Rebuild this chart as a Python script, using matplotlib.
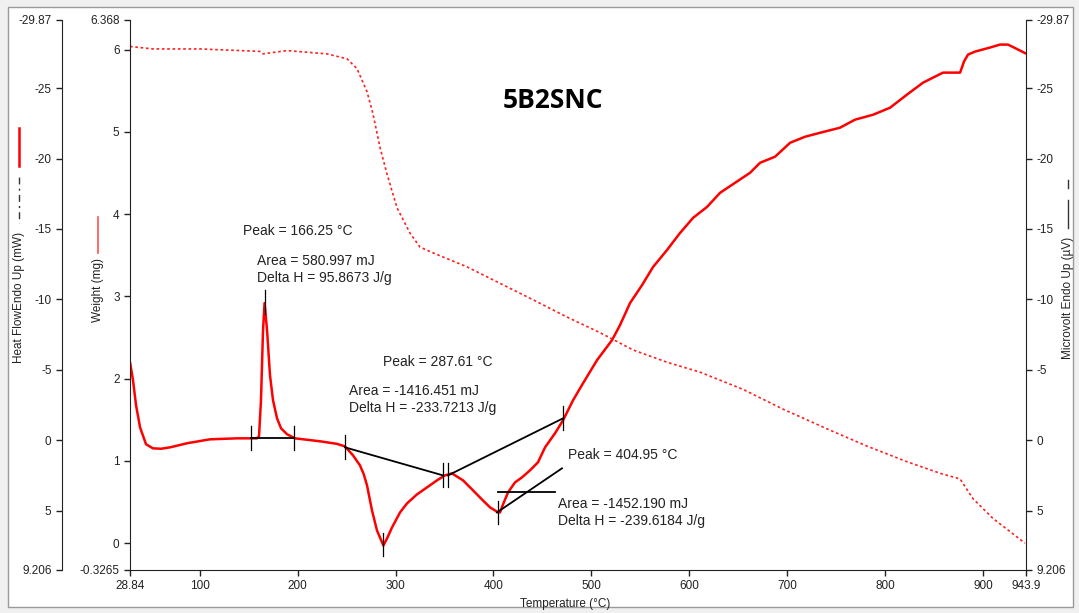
import matplotlib
matplotlib.use("Agg")
from matplotlib import pyplot as plt
from matplotlib.patches import Rectangle
from matplotlib.lines import Line2D

plt.rcParams['font.family'] = ['Liberation Sans', 'DejaVu Sans']

# heat flow curve (Temperature degC, mW, endo up -> axis inverted)
hf_temp = [28.84, 31.9, 35.0, 39.1, 45.2, 52.3, 60.5, 69.7, 87.1, 110.5, 138.1, 158.5, 160.6,
           162.6, 164.7, 166.25, 168.8, 171.8, 174.9, 179.0, 183.1, 189.2, 197.4, 222.9,
           240.0, 248.4, 256.6, 263.7, 267.5, 270.9, 276.0, 281.1, 287.6, 291.3, 296.4, 304.6,
           311.7, 321.9, 332.2, 342.4, 350.5, 357.7, 368.9, 378.1, 388.3, 396.5, 404.95, 406.7,
           409.8, 414.9, 422.0, 429.2, 437.4, 445.5, 452.7, 462.9, 471.1, 481.3, 491.5,
           505.8, 521.1, 529.3, 539.5, 551.8, 563.0, 577.3, 590.6, 603.9, 618.2, 631.5,
           646.8, 662.1, 672.3, 687.6, 703.0, 718.3, 733.6, 754.0, 769.3, 787.7, 805.1,
           822.4, 838.8, 859.2, 876.6, 880.6, 884.7, 891.8, 907.2, 917.4, 925.5, 935.7, 943.9]
hf_val = [-5.55, -4.27, -2.49, -0.92, 0.28, 0.57, 0.60, 0.50, 0.21, -0.07, -0.14, -0.14, -0.28,
          -2.84, -7.82, -9.74, -7.82, -4.62, -2.84, -1.56, -0.85, -0.43, -0.14, 0.07,
          0.25, 0.43, 1.07, 1.78, 2.40, 3.20, 4.98, 6.40, 7.47, 6.97, 6.19, 5.12,
          4.48, 3.84, 3.34, 2.84, 2.49, 2.35, 2.84, 3.48, 4.20, 4.76, 5.12, 5.12,
          4.55, 3.70, 2.99, 2.63, 2.13, 1.56, 0.50, -0.50, -1.42, -2.84, -4.05,
          -5.69, -7.11, -8.18, -9.74, -11.02, -12.30, -13.51, -14.72, -15.79, -16.57, -17.57,
          -18.28, -18.99, -19.70, -20.13, -21.12, -21.55, -21.83, -22.19, -22.76, -23.11, -23.61,
          -24.54, -25.39, -26.10, -26.10, -26.89, -27.38, -27.59, -27.88, -28.09, -28.09, -27.74, -27.45]

# weight curve (mg)
w_temp = [28.84, 52.3, 100.3, 161.6, 164.7, 189.2, 230.0, 250.5, 260.7, 270.9, 277.0,
          284.2, 291.3, 301.5, 314.8, 325.0, 338.3, 373.0, 406.7, 440.4, 475.1, 508.8,
          542.5, 577.3, 610.9, 654.9, 695.7, 740.7, 781.5, 822.4, 856.1, 876.6, 889.8,
          910.2, 942.9]
w_val = [6.04, 6.01, 6.01, 5.98, 5.95, 5.99, 5.95, 5.89, 5.77, 5.49, 5.22,
         4.81, 4.49, 4.08, 3.77, 3.60, 3.53, 3.36, 3.16, 2.96, 2.75, 2.56,
         2.35, 2.20, 2.08, 1.87, 1.63, 1.39, 1.18, 0.99, 0.85, 0.78, 0.54,
         0.30, 0.00]

# peak analysis results
peak_text = ["Peak = 166.25 \u00b0C", "Peak = 287.61 \u00b0C", "Peak = 404.95 \u00b0C"]
area_text = ["Area = 580.997 mJ\nDelta H = 95.8673 J/g",
             "Area = -1416.451 mJ\nDelta H = -233.7213 J/g",
             "Area = -1452.190 mJ\nDelta H = -239.6184 J/g"]

# baselines (T, mW)
base1 = ([152.4, 196.3], [-0.14, -0.14])
base2 = ([248.4, 348.5], [0.50, 2.49])
base3 = ([353.6, 471.1], [2.49, -1.56])
slant3 = ([403.6, 470.0], [5.12, 1.99])
horiz3 = ([404.7, 462.9], [3.70, 3.70])
limit_ticks = [(152.4, -0.14), (196.3, -0.14), (248.4, 0.50), (348.5, 2.49),
               (353.6, 2.49), (471.1, -1.56)]
peak_marks = [(166.25, -10.65, -9.0), (287.61, 6.6, 8.2), (404.95, 4.3, 5.97)]

xticks = [28.84, 100, 200, 300, 400, 500, 600, 700, 800, 900, 943.9]
xlabels = ["28.84", "100", "200", "300", "400", "500", "600", "700", "800", "900", "943.9"]
hf_ticks = [-29.87, -25, -20, -15, -10, -5, 0, 5, 9.206]
hf_labels = ["-29.87", "-25", "-20", "-15", "-10", "-5", "0", "5", "9.206"]
w_ticks = [-0.3265, 0, 1, 2, 3, 4, 5, 6, 6.368]
w_labels = ["-0.3265", "0", "1", "2", "3", "4", "5", "6", "6.368"]

W, H = 1079, 613
fig = plt.figure(figsize=(W / 100, H / 100), dpi=100, facecolor='#f0f0f0')
fig.patches.append(Rectangle((8 / W, 1 - 607 / H), 1065 / W, 600 / H, transform=fig.transFigure,
                             facecolor='white', edgecolor='#9a9a9a', lw=1, zorder=-10))

ax = fig.add_axes([130 / W, 1 - 570 / H, 896 / W, 550.5 / H])
ax.patch.set_alpha(0)
fs = 8.5
tick_kw = dict(direction='out', length=4, width=1, colors='#222222', labelsize=fs)

ax.plot(hf_temp, hf_val, color='#ff0000', lw=1.8, zorder=3,
        solid_joinstyle='round', solid_capstyle='round')
ax.set_xlim(28.84, 943.9)
ax.set_ylim(9.206, -29.87)
ax.set_xticks(xticks)
ax.set_xticklabels(xlabels)
ax.set_yticks(hf_ticks)
ax.set_yticklabels(hf_labels)
ax.tick_params(axis='both', **tick_kw)
ax.spines['left'].set_position(('outward', 49))
ax.spines['top'].set_visible(False)
ax.spines['right'].set_visible(False)
for s in ['left', 'bottom']:
    ax.spines[s].set_color('#222222')

# black analysis lines
for xs, ys in [base1, base2, base3, slant3, horiz3]:
    ax.plot(xs, ys, color='black', lw=1.3, zorder=4)
for t, v in limit_ticks:
    ax.plot([t, t], [v - 0.85, v + 0.85], color='black', lw=0.9, zorder=4)
for t, v0, v1 in peak_marks:
    ax.plot([t, t], [v0, v1], color='black', lw=0.9, zorder=4)

# right axis: microvolt
axr = ax.twinx()
axr.set_ylim(9.206, -29.87)
axr.set_yticks(hf_ticks)
axr.set_yticklabels(hf_labels)
axr.tick_params(axis='y', **tick_kw)
for s in ['left', 'top', 'bottom']:
    axr.spines[s].set_visible(False)
axr.spines['right'].set_color('#222222')

# weight axis on the inner left spine
axw = ax.twinx()
axw.plot(w_temp, w_val, color='#ff2020', lw=1.2, linestyle=(0, (1.6, 1.6)))
axw.set_ylim(-0.3265, 6.368)
axw.yaxis.tick_left()
axw.set_yticks(w_ticks)
axw.set_yticklabels(w_labels)
axw.tick_params(axis='y', **tick_kw)
for s in ['right', 'top', 'bottom']:
    axw.spines[s].set_visible(False)
axw.spines['left'].set_position(('axes', 0))
axw.spines['left'].set_color('#222222')

# text annotations
tk = dict(fontsize=10, color='#222222', va='center', ha='left')
ax.text(144.2, -14.86, peak_text[0], **tk)
ax.text(158.5, -12.1, area_text[0], linespacing=1.25, **tk)
ax.text(287.2, -5.55, peak_text[1], **tk)
ax.text(252.5, -2.88, area_text[1], linespacing=1.25, **tk)
ax.text(476.2, 1.07, peak_text[2], **tk)
ax.text(466.0, 5.15, area_text[2], linespacing=1.25, **tk)

fig.text(553 / W, 1 - 100 / H, "5B2SNC", fontsize=19, fontweight='bold',
         family='Open Sans', ha='center', va='center', color='black')

# axis titles with legend swatches
fig.text(19 / W, 1 - 297 / H, "Heat FlowEndo Up (mW)", rotation=90, fontsize=fs,
         ha='center', va='center', color='#222222')
fig.lines.append(Line2D([19 / W, 19 / W], [1 - 128 / H, 1 - 166 / H], transform=fig.transFigure,
                        color='#ff0000', lw=1.8))
fig.lines.append(Line2D([19 / W, 19 / W], [1 - 177 / H, 1 - 223 / H], transform=fig.transFigure,
                        color='#333333', lw=1, linestyle=(0, (5, 3, 1.5, 3))))
fig.text(98 / W, 1 - 290 / H, "Weight (mg)", rotation=90, fontsize=fs,
         ha='center', va='center', color='#222222')
fig.lines.append(Line2D([98 / W, 98 / W], [1 - 217 / H, 1 - 253 / H], transform=fig.transFigure,
                        color='#ff5050', lw=1.2))
fig.text(1068 / W, 1 - 298 / H, "Microvolt Endo Up (\u00b5V)", rotation=90, fontsize=fs,
         ha='center', va='center', color='#222222')
fig.lines.append(Line2D([1068 / W, 1068 / W], [1 - 200 / H, 1 - 228 / H], transform=fig.transFigure,
                        color='#333333', lw=1))
fig.lines.append(Line2D([1068 / W, 1068 / W], [1 - 180 / H, 1 - 188 / H], transform=fig.transFigure,
                        color='#333333', lw=1))
fig.text(565 / W, 1 - 604 / H, "Temperature (\u00b0C)", fontsize=fs, ha='center', va='center',
         color='#222222')

fig.savefig("out.png", dpi=100, facecolor=fig.get_facecolor())
